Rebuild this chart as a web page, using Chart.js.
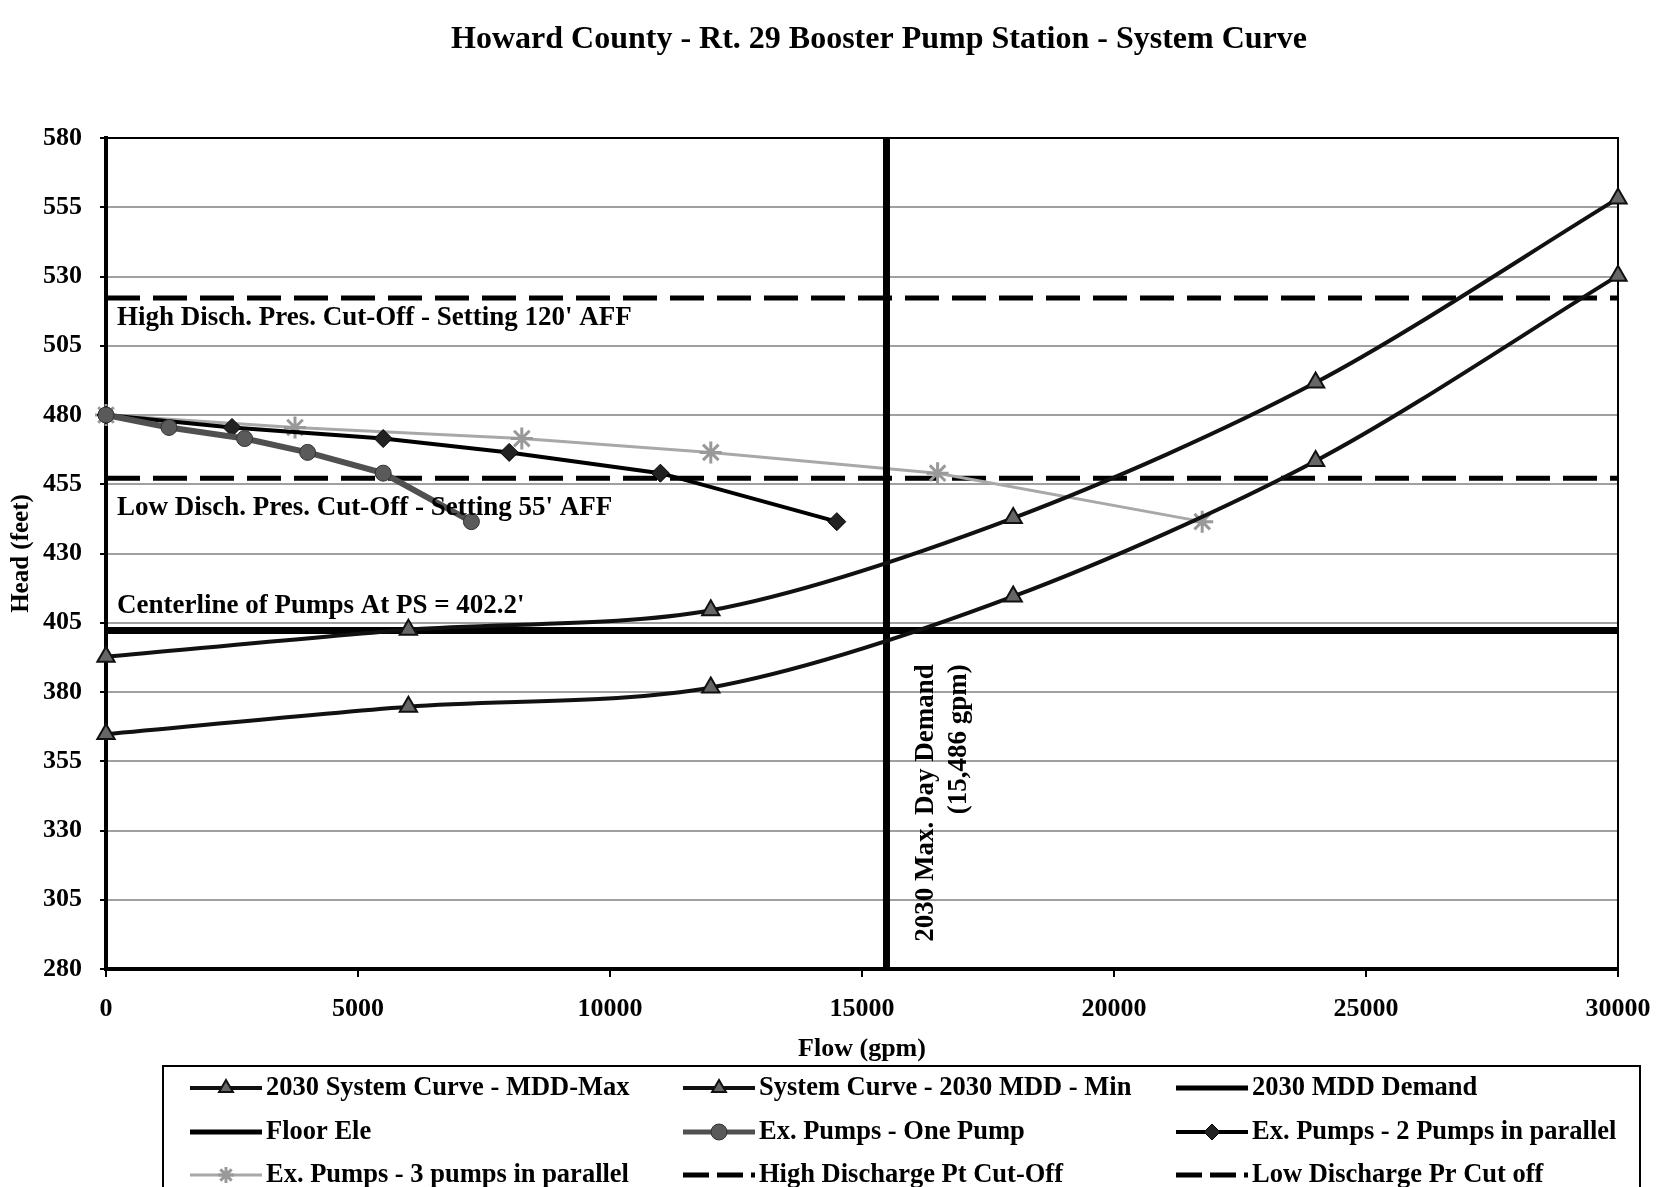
<!DOCTYPE html>
<html>
<head>
<meta charset="utf-8">
<title>Howard County - Rt. 29 Booster Pump Station - System Curve</title>
<script src="https://cdn.jsdelivr.net/npm/chart.js"></script>
<style>
  html, body { margin: 0; padding: 0; background: #fff; }
  #wrap { width: 1661px; height: 1187px; }
</style>
</head>
<body>
<div id="wrap"><canvas id="grafico" width="1661" height="1187"></canvas></div>
<script>
// Valores
const flowSystem = [0, 6000, 12000, 18000, 24000, 30000];
const headMddMax = [392.7, 402.5, 409.5, 442.8, 491.7, 558.2];
const headMddMin = [364.8, 374.7, 381.6, 414.5, 463.4, 530.3];

const flowOnePump = [0, 1250, 2750, 4000, 5500, 7250];
const flowTwoPumps = [0, 2500, 5500, 8000, 11000, 14500];
const flowThreePumps = [0, 3750, 8250, 12000, 16500, 21750];
const headPumps = [480, 475.5, 471.5, 466.5, 459, 441.5];

const demandFlow = 15486;
const floorEle = 402.2;
const highCutOff = 522.2;
const lowCutOff = 457.2;

const xRange = [0, 30000];
const yRange = [280, 580];

const legendLabels = [
  '2030 System Curve - MDD-Max', 'System Curve - 2030 MDD - Min', '2030 MDD Demand',
  'Floor Ele', 'Ex. Pumps - One Pump', 'Ex. Pumps - 2 Pumps in parallel',
  'Ex. Pumps - 3 pumps in parallel', 'High Discharge Pt Cut-Off', 'Low Discharge Pr Cut off'
];

const SERIF = '"Liberation Serif", "Times New Roman", serif';

function pares(xs, ys) {
  return xs.map((x, i) => ({ x: x, y: ys[i] }));
}

const datasets = [
  {
    label: legendLabels[0], data: pares(flowSystem, headMddMax),
    borderColor: '#111', borderWidth: 4, tension: 0.3, clip: false,
    pointStyle: 'triangle', pointRadius: 10, pointBackgroundColor: '#666', pointBorderColor: '#111', pointBorderWidth: 2
  },
  {
    label: legendLabels[1], data: pares(flowSystem, headMddMin),
    borderColor: '#111', borderWidth: 4, tension: 0.3, clip: false,
    pointStyle: 'triangle', pointRadius: 10, pointBackgroundColor: '#666', pointBorderColor: '#111', pointBorderWidth: 2
  },
  {
    label: legendLabels[2], data: [{ x: demandFlow, y: yRange[0] }, { x: demandFlow, y: yRange[1] }],
    borderColor: '#000', borderWidth: 7, pointRadius: 0
  },
  {
    label: legendLabels[3], data: [{ x: xRange[0], y: floorEle }, { x: xRange[1], y: floorEle }],
    borderColor: '#000', borderWidth: 7, pointRadius: 0
  },
  {
    label: legendLabels[4], data: pares(flowOnePump, headPumps),
    borderColor: '#505050', borderWidth: 6, clip: false,
    pointStyle: 'circle', pointRadius: 8, pointBackgroundColor: '#5a5a5a', pointBorderColor: '#333', pointBorderWidth: 1
  },
  {
    label: legendLabels[5], data: pares(flowTwoPumps, headPumps),
    borderColor: '#000', borderWidth: 4, clip: false,
    pointStyle: 'rectRot', pointRadius: 9, pointBackgroundColor: '#222', pointBorderColor: '#000', pointBorderWidth: 1
  },
  {
    label: legendLabels[6], data: pares(flowThreePumps, headPumps),
    borderColor: '#a8a8a8', borderWidth: 3, clip: false,
    pointStyle: 'star', pointRadius: 11, pointBackgroundColor: '#999', pointBorderColor: '#999', pointBorderWidth: 3
  },
  {
    label: legendLabels[7], data: [{ x: xRange[0], y: highCutOff }, { x: xRange[1], y: highCutOff }],
    borderColor: '#000', borderWidth: 5, borderDash: [34, 13], pointRadius: 0
  },
  {
    label: legendLabels[8], data: [{ x: xRange[0], y: lowCutOff }, { x: xRange[1], y: lowCutOff }],
    borderColor: '#000', borderWidth: 5, borderDash: [34, 13], pointRadius: 0
  }
];

// Plugin para título, textos, moldura e legenda em caixa
const decoracao = {
  id: 'decoracao',
  beforeDatasetsDraw(chart) {
    const ctx = chart.ctx;
    const a = chart.chartArea;
    ctx.save();
    ctx.strokeStyle = '#000';
    ctx.lineWidth = 2;
    ctx.beginPath();
    ctx.moveTo(a.left, a.top);
    ctx.lineTo(a.right, a.top);
    ctx.lineTo(a.right, a.bottom);
    ctx.stroke();
    ctx.restore();
  },
  afterDraw(chart) {
    const ctx = chart.ctx;
    const a = chart.chartArea;
    const x = chart.scales.x;
    const y = chart.scales.y;
    ctx.save();
    ctx.fillStyle = '#000';

    // título
    ctx.font = 'bold 32px ' + SERIF;
    ctx.textAlign = 'center';
    ctx.textBaseline = 'middle';
    ctx.fillText('Howard County - Rt. 29 Booster Pump Station - System Curve', 879, 40);

    // anotações das linhas
    ctx.font = 'bold 27px ' + SERIF;
    ctx.textAlign = 'left';
    ctx.fillText("High Disch. Pres. Cut-Off - Setting 120' AFF", a.left + 11, y.getPixelForValue(515));
    ctx.fillText("Low Disch. Pres. Cut-Off - Setting 55' AFF", a.left + 11, y.getPixelForValue(446.5));
    ctx.fillText("Centerline of Pumps At PS = 402.2'", a.left + 11, y.getPixelForValue(411));

    // texto vertical da demanda
    ctx.save();
    ctx.translate(x.getPixelForValue(demandFlow), y.getPixelForValue(390));
    ctx.rotate(-Math.PI / 2);
    ctx.font = 'bold 27px ' + SERIF;
    ctx.textAlign = 'right';
    ctx.fillText('2030 Max. Day Demand', 0, 40);
    ctx.fillText('(15,486 gpm)', 0, 73);
    ctx.restore();

    // legenda
    ctx.strokeStyle = '#000';
    ctx.lineWidth = 2;
    ctx.strokeRect(163, 1066, 1477, 140);
    const colX = [190, 683, 1176];
    const rowY = [1088, 1132, 1175];
    ctx.font = 'bold 26.5px ' + SERIF;
    ctx.textAlign = 'left';
    ctx.textBaseline = 'middle';
    chart.data.datasets.forEach((ds, i) => {
      const cx = colX[i % 3];
      const cy = rowY[Math.floor(i / 3)];
      ctx.save();
      ctx.strokeStyle = ds.borderColor;
      ctx.lineWidth = Math.min(ds.borderWidth, 5);
      ctx.setLineDash(ds.borderDash ? [26, 8] : []);
      ctx.beginPath();
      ctx.moveTo(cx, cy);
      ctx.lineTo(cx + 72, cy);
      ctx.stroke();
      ctx.setLineDash([]);
      if (ds.pointRadius) {
        ctx.fillStyle = ds.pointBackgroundColor;
        ctx.strokeStyle = ds.pointBorderColor;
        ctx.lineWidth = ds.pointBorderWidth;
        Chart.helpers.drawPoint(ctx, { pointStyle: ds.pointStyle, radius: 8, rotation: 0, borderWidth: ds.pointBorderWidth }, cx + 36, cy);
      }
      ctx.restore();
      ctx.fillText(ds.label, cx + 76, cy);
    });
    ctx.restore();
  }
};

const ctx = document.getElementById('grafico').getContext('2d');
const grafico = new Chart(ctx, {
  type: 'line',
  data: { datasets: datasets },
  plugins: [decoracao],
  options: {
    responsive: false,
    animation: false,
    layout: { padding: { top: 138, right: 43, bottom: 122, left: 0 } },
    plugins: {
      legend: { display: false },
      title: { display: false },
      tooltip: { enabled: false }
    },
    scales: {
      x: {
        type: 'linear',
        min: xRange[0], max: xRange[1],
        ticks: {
          stepSize: 5000, color: '#000', padding: 17,
          font: { family: SERIF, size: 26, weight: 'bold' },
          callback: (v) => String(v)
        },
        grid: { drawOnChartArea: false, drawTicks: true, tickLength: 8, color: '#000', lineWidth: 2 },
        border: { color: '#000', width: 4 },
        title: { display: true, text: 'Flow (gpm)', color: '#000', padding: 0, font: { family: SERIF, size: 26, weight: 'bold' } },
        afterFit(scale) {
          scale.height = 96;
          scale.paddingLeft = 0;
          scale.paddingRight = 0;
        }
      },
      y: {
        min: yRange[0], max: yRange[1],
        ticks: { stepSize: 25, color: '#000', padding: 18, font: { family: SERIF, size: 26, weight: 'bold' } },
        grid: { color: '#a0a0a0', lineWidth: 2, tickLength: 6, tickColor: '#000' },
        border: { color: '#000', width: 4 },
        title: { display: true, text: 'Head (feet)', color: '#000', padding: { top: 7, bottom: 0 }, font: { family: SERIF, size: 25, weight: 'bold' } },
        afterFit(scale) { scale.width = 106; }
      }
    }
  }
});
</script>
</body>
</html>
